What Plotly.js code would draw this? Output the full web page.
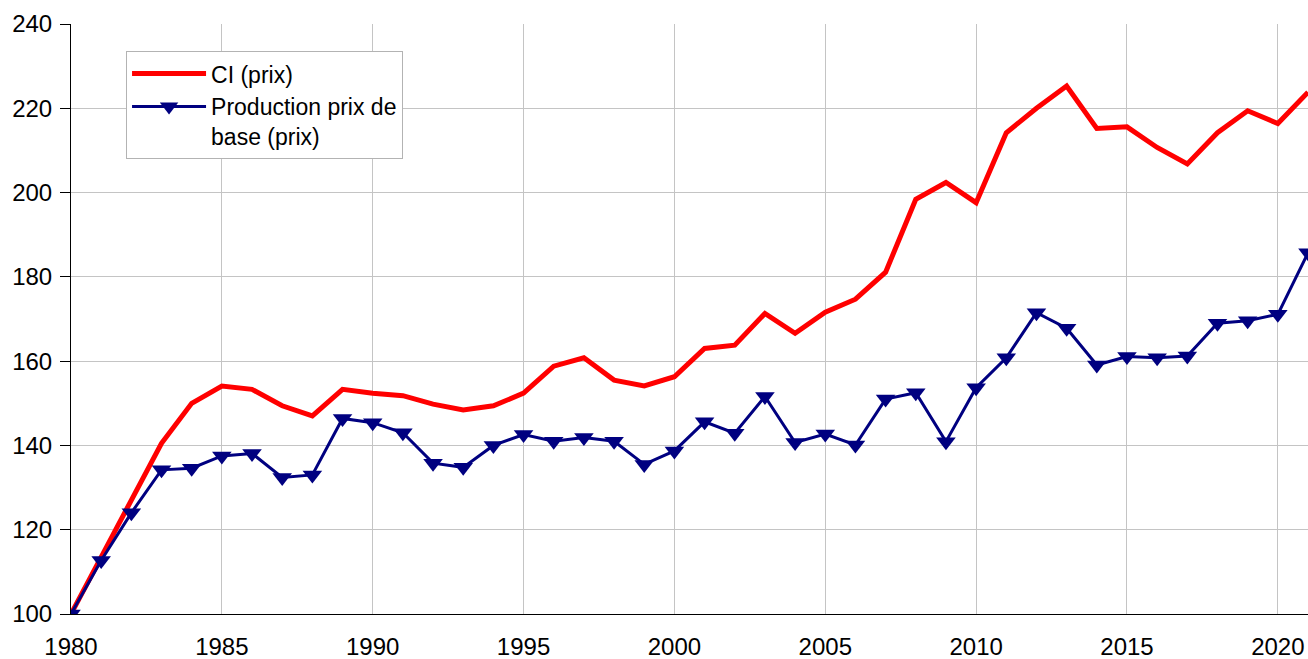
<!DOCTYPE html>
<html>
<head>
<meta charset="utf-8">
<script src="https://cdn.plot.ly/plotly-3.0.1.min.js"></script>
<style>
html,body{margin:0;padding:0;background:#fff;}
#chart{width:1308px;height:659px;}
</style>
</head>
<body>
<div id="chart"></div>
<script>
const years = [1980,1981,1982,1983,1984,1985,1986,1987,1988,1989,1990,1991,1992,1993,1994,1995,1996,1997,1998,1999,2000,2001,2002,2003,2004,2005,2006,2007,2008,2009,2010,2011,2012,2013,2014,2015,2016,2017,2018,2019,2020,2021];
const ciPrix = [100,113.3,127,140.5,150,154.1,153.3,149.4,147.0,153.3,152.4,151.8,149.8,148.4,149.4,152.4,158.8,160.8,155.5,154.1,156.3,163.0,163.8,171.3,166.6,171.6,174.7,181.1,198.4,202.4,197.6,214.2,220.0,225.3,215.2,215.6,210.7,206.8,214.2,219.4,216.4,223.8];
const prodPrix = [100,112.7,124,134.2,134.6,137.5,138.1,132.4,133.0,146.4,145.4,143.0,135.8,134.8,140.0,142.6,141.0,141.9,141.0,135.5,138.7,145.6,142.9,151.6,140.7,142.7,140.1,151.0,152.5,140.9,153.7,160.8,171.5,167.8,159.1,161.1,160.8,161.2,169.0,169.6,171.1,185.7];
const seriesNames = ["CI (prix)", "Production prix de<br>base (prix)"];
const xTicks = [1980,1985,1990,1995,2000,2005,2010,2015,2020];
const yTicks = [100,120,140,160,180,200,220,240];

const traces = [
  {x: years, y: ciPrix, name: seriesNames[0], type: 'scatter', mode: 'lines',
   line: {color: '#ff0000', width: 5}},
  {x: years, y: prodPrix, name: seriesNames[1], type: 'scatter', mode: 'lines+markers',
   line: {color: '#000080', width: 3},
   marker: {symbol: 'triangle-down', size: 17, color: '#000080'}}
];

const layout = {
  width: 1308, height: 659,
  margin: {l: 71, r: 0, t: 24, b: 45},
  paper_bgcolor: '#fff', plot_bgcolor: '#fff',
  font: {family: '"Liberation Sans", Arial, sans-serif', size: 24, color: '#000'},
  showlegend: true,
  legend: {
    x: 0.0445, y: 0.954, xanchor: 'left', yanchor: 'top',
    bgcolor: '#fff', bordercolor: '#b3b3b3', borderwidth: 1,
    font: {size: 23, color: '#000'}, valign: 'top', tracegroupgap: 0,
    itemwidth: 74, entrywidth: 300, entrywidthmode: 'pixels'
  },
  xaxis: {
    range: [1980, 2021], tickvals: xTicks, ticktext: xTicks.map(String),
    showgrid: true, gridcolor: '#c4c4c4', gridwidth: 1,
    zeroline: false, showline: true, linecolor: '#000', linewidth: 1,
    ticks: '', ticklabelstandoff: 11, tickfont: {size: 24, color: '#000'}
  },
  yaxis: {
    range: [100, 240], tickvals: yTicks,
    showgrid: true, gridcolor: '#c4c4c4', gridwidth: 1,
    zeroline: false, showline: true, linecolor: '#000', linewidth: 1,
    ticks: 'outside', ticklen: 10, tickcolor: '#000', tickwidth: 1,
    ticklabelstandoff: 3, tickfont: {size: 24, color: '#000'}
  }
};

Plotly.newPlot('chart', traces, layout, {displayModeBar: false, staticPlot: true});
</script>
</body>
</html>
